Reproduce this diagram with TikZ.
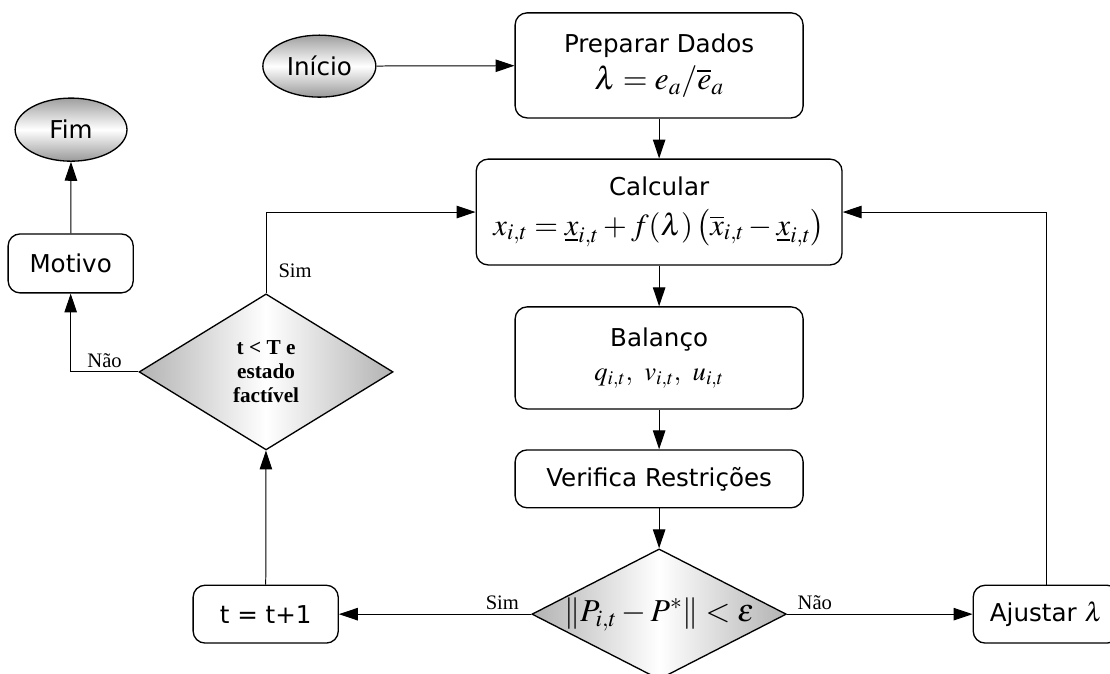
\documentclass[tikz,border=0pt]{standalone}
\usepackage{mathptmx}
\usepackage[no-math]{fontspec}
\setmainfont{Liberation Serif}
\newfontfamily\boxfont{DejaVu Sans}
\usetikzlibrary{arrows.meta,shapes.geometric}
\newcommand\eqsize{\fontsize{24}{30}\selectfont}
\newcommand\eqsmall{\fontsize{20}{24}\selectfont}
\tikzset{
  proc/.style={rectangle, rounded corners=9pt, draw=black, line width=1pt,
    fill=white, align=center, inner sep=2pt, font=\boxfont\fontsize{18.5}{26}\selectfont},
  term/.style={ellipse, draw=black, line width=1pt, inner sep=0pt,
    top color=gray!75, bottom color=gray!80, middle color=white,
    font=\boxfont\fontsize{18.5}{22}\selectfont},
  cond/.style={diamond, draw=black, line width=1pt, inner sep=0pt, align=center,
    left color=gray!60, right color=gray!60, middle color=white},
  flow/.style={-{Triangle[length=5mm,width=3.3mm]}, draw=black, line width=0.75pt},
  lbl/.style={font=\fontsize{15.5}{18}\selectfont, inner sep=3pt},
}
\begin{document}
\begin{tikzpicture}
\useasboundingbox (0,0) rectangle (29.37,-17.83);
\clip (0,0) rectangle (29.37,-17.83);
% start / end
\node[term, minimum width=2.99cm, minimum height=1.64cm] at (8.45,-1.75) (inicio) {Início};
\node[term, minimum width=2.96cm, minimum height=1.67cm] at (1.88,-3.43) (fim) {Fim};
% main column
\node[proc, minimum width=7.62cm, minimum height=2.78cm] at (17.44,-1.73) (prep)
  {Preparar Dados\\[2pt]{\eqsize$\lambda = e_a/\overline{e}_a$}};
\node[proc, minimum width=9.68cm, minimum height=2.80cm] at (17.44,-5.61) (calc)
  {Calcular\\[4pt]{\fontsize{23}{28}\selectfont$x_{i,t} = \underline{x}_{i,t} + f(\lambda)\left(\overline{x}_{i,t} - \underline{x}_{i,t}\right)$}};
\node[proc, minimum width=7.62cm, minimum height=2.70cm] at (17.44,-9.47) (bal)
  {Balanço\\{\eqsmall$q_{i,t},\ v_{i,t},\ u_{i,t}$}};
\node[proc, minimum width=7.62cm, minimum height=1.53cm] at (17.44,-12.67) (verif) {Verifica Restrições};
\node[cond, aspect=1.95, minimum width=6.69cm, minimum height=3.44cm] at (17.44,-16.25) (pdec)
  {\eqsize$\left\| P_{i,t} - P^{*} \right\| < \varepsilon$};
% bottom row
\node[proc, minimum width=3.84cm, minimum height=1.53cm] at (7.03,-16.25) (tinc) {t = t+1};
\node[proc, minimum width=3.86cm, minimum height=1.53cm] at (27.68,-16.25) (ajust)
  {Ajustar {\eqsmall$\lambda$}};
% left column
\node[cond, aspect=1.6, minimum width=6.72cm, minimum height=4.13cm,
  font=\bfseries\fontsize{16}{18}\selectfont] at (7.04,-9.84) (tdec)
  {t < T e\\estado\\factível};
\node[proc, minimum width=3.31cm, minimum height=1.56cm] at (1.87,-6.97) (motivo) {Motivo};
% flows
\draw[flow] (inicio) -- (prep);
\draw[flow] (prep) -- (calc);
\draw[flow] (calc) -- (bal);
\draw[flow] (bal) -- (verif);
\draw[flow] (verif) -- (pdec);
\draw[flow] (pdec) -- node[lbl, above, pos=0.15] {Sim} (tinc);
\draw[flow] (pdec) -- node[lbl, above, pos=0.15] {Não} (ajust);
\draw[flow] (tinc) -- (tdec);
\draw[flow] (tdec.north) |- node[lbl, right=6pt, pos=0.14] {Sim} (calc.west);
\draw[flow] (tdec.west) -| node[lbl, above, pos=0.25] {Não} (motivo.south);
\draw[flow] (ajust.north) |- (calc.east);
\draw[flow] (motivo) -- (fim);
\end{tikzpicture}
\end{document}
